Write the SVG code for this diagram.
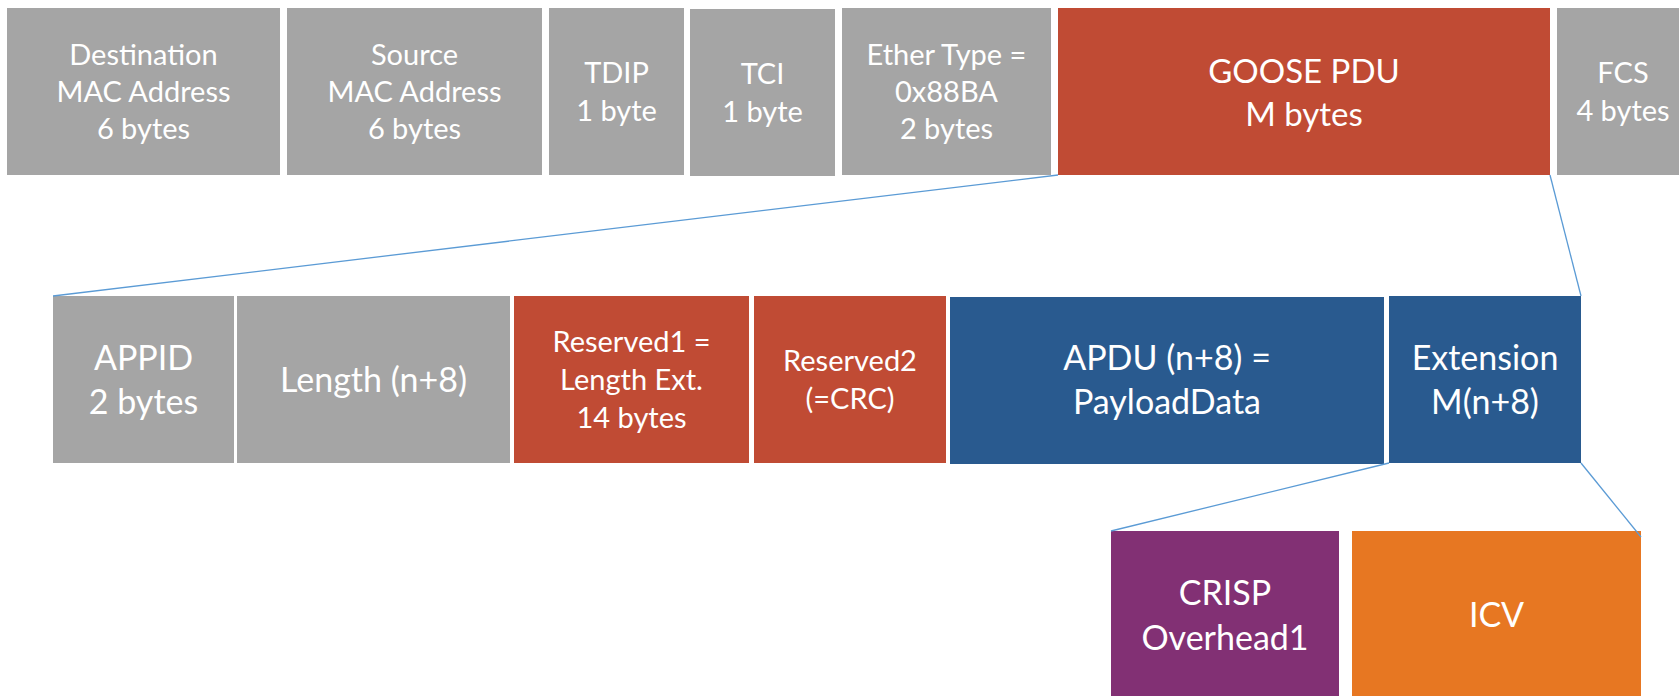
<svg xmlns="http://www.w3.org/2000/svg" width="1679" height="696" viewBox="0 0 1679 696">
  <style>
    .gray { fill: #A5A5A5; }
    .red { fill: #C04B34; }
    .blue { fill: #295A8F; }
    .purple { fill: #823074; }
    .orange { fill: #E77722; }
    text { font-family: Lato, "Noto Sans", sans-serif; fill: #FFFFFF; text-anchor: middle; }
    .t29 { font-size: 29px; }
    .t34 { font-size: 34px; }
    .t33 { font-size: 33px; }
    .link { stroke: #5B9BD5; stroke-width: 1.3; fill: none; }
  </style>

  <!-- Ethernet frame -->
  <g id="dest-mac">
    <rect class="gray" x="7" y="8" width="273" height="167"/>
    <text class="t29" x="143.5" y="65">Destination</text>
    <text class="t29" x="143.5" y="102">MAC Address</text>
    <text class="t29" x="143.5" y="139">6 bytes</text>
  </g>
  <g id="src-mac">
    <rect class="gray" x="287" y="8" width="255" height="167"/>
    <text class="t29" x="414.5" y="65">Source</text>
    <text class="t29" x="414.5" y="102">MAC Address</text>
    <text class="t29" x="414.5" y="139">6 bytes</text>
  </g>
  <g id="tdip">
    <rect class="gray" x="549" y="8" width="135" height="167"/>
    <text class="t29" x="616.5" y="83">TDIP</text>
    <text class="t29" x="616.5" y="121">1 byte</text>
  </g>
  <g id="tci">
    <rect class="gray" x="690" y="9" width="145" height="167"/>
    <text class="t29" x="762.5" y="84">TCI</text>
    <text class="t29" x="762.5" y="122">1 byte</text>
  </g>
  <g id="ether-type">
    <rect class="gray" x="842" y="8" width="209" height="167"/>
    <text class="t29" x="946.5" y="65">Ether Type =</text>
    <text class="t29" x="946.5" y="102">0x88BA</text>
    <text class="t29" x="946.5" y="139">2 bytes</text>
  </g>
  <g id="goose-pdu">
    <rect class="red" x="1058" y="8" width="492" height="167"/>
    <text class="t33" x="1304" y="83">GOOSE PDU</text>
    <text class="t33" x="1304" y="126">M bytes</text>
  </g>
  <g id="fcs">
    <rect class="gray" x="1557" y="8" width="132" height="167"/>
    <text class="t29" x="1623" y="83">FCS</text>
    <text class="t29" x="1623" y="121">4 bytes</text>
  </g>

  <!-- GOOSE PDU fields -->
  <g id="appid">
    <rect class="gray" x="53" y="296" width="181" height="167"/>
    <text class="t34" x="143.5" y="370">APPID</text>
    <text class="t34" x="143.5" y="414">2 bytes</text>
  </g>
  <g id="length">
    <rect class="gray" x="237" y="296" width="273" height="167"/>
    <text class="t34" x="373.5" y="392">Length (n+8)</text>
  </g>
  <g id="reserved1">
    <rect class="red" x="514" y="296" width="235" height="167"/>
    <text class="t29" x="631.5" y="352">Reserved1 =</text>
    <text class="t29" x="631.5" y="390">Length Ext.</text>
    <text class="t29" x="631.5" y="428">14 bytes</text>
  </g>
  <g id="reserved2">
    <rect class="red" x="754" y="296" width="192" height="167"/>
    <text class="t29" x="850" y="371">Reserved2</text>
    <text class="t29" x="850" y="409">(=CRC)</text>
  </g>
  <g id="apdu">
    <rect class="blue" x="950" y="297" width="434" height="167"/>
    <text class="t34" x="1167" y="370">APDU (n+8) =</text>
    <text class="t34" x="1167" y="414">PayloadData</text>
  </g>
  <g id="extension">
    <rect class="blue" x="1389" y="296" width="192" height="167"/>
    <text class="t34" x="1485" y="370">Extension</text>
    <text class="t34" x="1485" y="414">M(n+8)</text>
  </g>

  <!-- Extension fields -->
  <g id="crisp">
    <rect class="purple" x="1111" y="531" width="228" height="175"/>
    <text class="t34" x="1225" y="605">CRISP</text>
    <text class="t34" x="1225" y="650">Overhead1</text>
  </g>
  <g id="icv">
    <rect class="orange" x="1352" y="531" width="289" height="175"/>
    <text class="t34" x="1496.5" y="627">ICV</text>
  </g>

  <!-- Expansion lines -->
  <g id="connectors">
    <line class="link" x1="1058" y1="175" x2="53" y2="296"/>
    <line class="link" x1="1550" y1="175" x2="1581" y2="296"/>
    <line class="link" x1="1389" y1="463" x2="1111" y2="531"/>
    <line class="link" x1="1581" y1="463" x2="1641" y2="537"/>
  </g>
</svg>
